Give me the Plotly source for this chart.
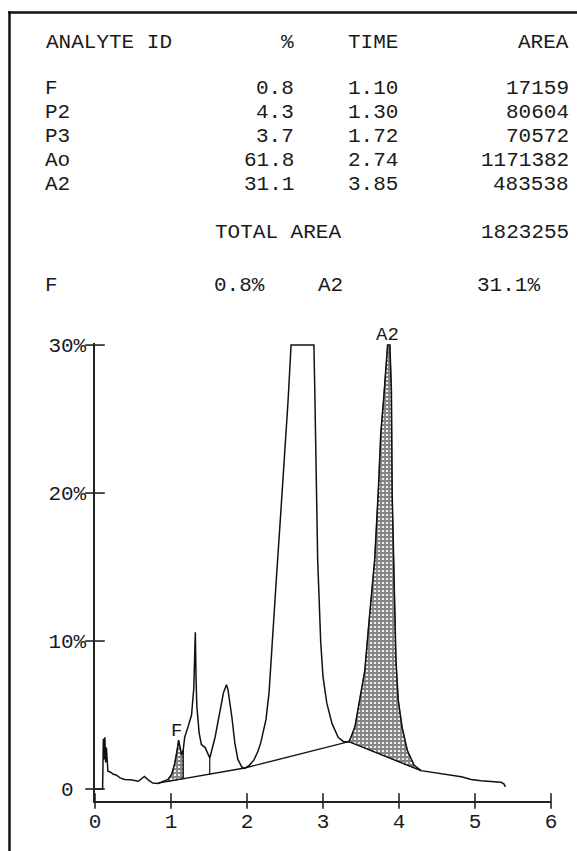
import numpy as np
import plotly.graph_objects as go

# ---------------- data ----------------
analytes = ["F", "P2", "P3", "Ao", "A2"]
percent = ["0.8", "4.3", "3.7", "61.8", "31.1"]
times = ["1.10", "1.30", "1.72", "2.74", "3.85"]
areas = ["17159", "80604", "70572", "1171382", "483538"]
total_area = "1823255"
summary = [("F", "0.8%"), ("A2", "31.1%")]

# chromatogram trace: time (min) vs signal (% full scale)
time_min = [0.00, 0.10, 0.11, 0.12, 0.13, 0.14, 0.15, 0.16, 0.17, 0.20, 0.24, 0.28,
            0.33, 0.39, 0.47, 0.57, 0.62, 0.65, 0.70, 0.76, 0.83, 0.90, 0.96, 1.01,
            1.05, 1.09, 1.10, 1.12, 1.14, 1.16, 1.18, 1.23, 1.27, 1.30, 1.32, 1.33,
            1.34, 1.37, 1.40, 1.45, 1.51, 1.58, 1.64, 1.69, 1.73, 1.75, 1.80, 1.84,
            1.88, 1.93, 1.97, 2.03, 2.09, 2.14, 2.18, 2.22, 2.25, 2.29, 2.33, 2.39,
            2.45, 2.51, 2.53, 2.54, 2.58, 2.88, 2.89, 2.91, 2.93, 2.97, 3.00, 3.05,
            3.12, 3.20, 3.27, 3.34, 3.36, 3.42, 3.48, 3.55, 3.60, 3.64, 3.68, 3.73,
            3.76, 3.80, 3.83, 3.85, 3.88, 3.90, 3.91, 3.93, 3.96, 3.99, 4.04, 4.11,
            4.20, 4.29, 4.50, 4.82, 4.95, 5.08, 5.34, 5.38, 5.40]
signal_pct = [0.0, 0.0, 3.4, 2.0, 3.5, 1.8, 2.8, 1.6, 1.2, 1.15, 1.0, 0.95,
              0.75, 0.65, 0.62, 0.52, 0.75, 0.85, 0.62, 0.40, 0.38, 0.50, 0.65, 1.0,
              1.75, 2.9, 3.3, 2.8, 2.3, 2.6, 3.5, 4.3, 5.0, 6.8, 10.6, 7.4,
              5.6, 3.8, 3.0, 2.8, 2.1, 3.5, 5.1, 6.5, 7.05, 6.7, 4.9, 3.1,
              2.0, 1.5, 1.4, 1.6, 1.95, 2.5, 3.1, 3.9, 4.7, 6.5, 9.9, 14.5,
              19.1, 23.7, 25.5, 26.2, 30.0, 30.0, 27.5, 20.0, 15.5, 9.9, 7.6, 5.8,
              4.4, 3.5, 3.2, 3.2, 3.4, 4.2, 6.0, 8.0, 11.0, 13.2, 15.5, 20.4,
              24.0, 26.5, 29.0, 30.0, 30.0, 27.0, 20.0, 15.5, 8.7, 6.0, 4.2, 2.6,
              1.6, 1.24, 1.08, 0.83, 0.65, 0.56, 0.45, 0.35, 0.15]

# integration baseline drawn by the integrator
baseline_t = [0.83, 1.97, 3.34, 4.29]
baseline_pct = [0.40, 1.42, 3.20, 1.24]
# peak separation drop lines
drop_t = [1.16, 1.51]
drop_top = [2.6, 2.1]
# shaded (reported) peaks
f_window = (0.96, 1.16)
a2_window = (3.34, 4.29)

x_ticks = [0, 1, 2, 3, 4, 5, 6]
x_ticktext = ["0", "1", "2", "3", "4", "5", "6"]
y_ticks = [0, 10, 20, 30]
y_ticktext = ["0\u00a0", "10%", "20%", "30%"]

# ---------------- layout geometry ----------------
W, H = 577, 851
L, R, T, B = 95, 551, 343, 801
Y_RANGE = [-0.81, 30.14]
FONT = "Liberation Mono"
FS = 21
INK = "#1a1a1a"


def px(x):
    return (x - L) / (R - L)


def py(y):
    return (B - y) / (B - T)


t_arr = np.array(time_min)
s_arr = np.array(signal_pct)


def shaded(t0, t1):
    m = (t_arr >= t0) & (t_arr <= t1)
    xs = list(t_arr[m])
    ys = list(s_arr[m])
    bx = [t1, t0]
    by = list(np.interp(bx, baseline_t, baseline_pct))
    return xs + bx + [xs[0]], ys + by + [ys[0]]


pattern = dict(shape="+", fgcolor="#1a1a1a", bgcolor="#eeeeee", size=4, solidity=0.7)

fig = go.Figure()
for win in (f_window, a2_window):
    xs, ys = shaded(*win)
    fig.add_trace(go.Scatter(x=xs, y=ys, mode="lines", fill="toself",
                             fillpattern=pattern, fillcolor="rgba(0,0,0,0)",
                             line=dict(width=0.8, color="#222"), hoverinfo="skip",
                             showlegend=False))

# trace
fig.add_trace(go.Scatter(x=time_min, y=signal_pct, mode="lines",
                         line=dict(color="#111", width=1.5), showlegend=False))
# baseline
fig.add_trace(go.Scatter(x=baseline_t, y=baseline_pct, mode="lines",
                         line=dict(color="#111", width=1.4), showlegend=False))
# drop lines
drop_base = np.interp(drop_t, baseline_t, baseline_pct)
dx, dy = [], []
for t, top, bot in zip(drop_t, drop_top, drop_base):
    dx += [t, t, None]
    dy += [top, bot, None]
fig.add_trace(go.Scatter(x=dx, y=dy, mode="lines",
                         line=dict(color="#111", width=1.2), showlegend=False))

# tick marks crossing the axes
fig.add_trace(go.Scatter(x=x_ticks, y=[Y_RANGE[0]] * len(x_ticks), mode="markers",
                         marker=dict(symbol="line-ns", size=11,
                                     line=dict(width=1.6, color="#222")),
                         cliponaxis=False, showlegend=False, hoverinfo="skip"))
fig.add_trace(go.Scatter(x=[0] * len(y_ticks), y=y_ticks, mode="markers",
                         marker=dict(symbol="line-ew", size=14,
                                     line=dict(width=1.6, color="#222")),
                         cliponaxis=False, showlegend=False, hoverinfo="skip"))

ann = []


def text(x, y, s, anchor="left"):
    ann.append(dict(x=px(x), y=py(y), xref="paper", yref="paper", text=s,
                    showarrow=False, xanchor=anchor, yanchor="middle",
                    font=dict(family=FONT, size=FS, color=INK)))


# header table
text(44, 42, "ANALYTE ID")
text(296, 42, "%", "right")
text(400, 42, "TIME", "right")
text(571, 42, "AREA", "right")
row_y = [88.5, 112.5, 136.5, 160.5, 184]
for yy, a, p, t, ar in zip(row_y, analytes, percent, times, areas):
    text(43, yy, a)
    text(296, yy, p, "right")
    text(400, yy, t, "right")
    text(571, yy, ar, "right")
text(213, 232, "TOTAL AREA")
text(571, 232, total_area, "right")
text(43, 285, summary[0][0])
text(212, 285, summary[0][1])
text(316, 285, summary[1][0])
text(475, 285, summary[1][1])

# peak labels
ann.append(dict(x=3.85, y=30.0, xref="x", yref="y", text="A2", showarrow=False,
                xanchor="center", yanchor="bottom", yshift=-3,
                font=dict(family=FONT, size=FS - 2, color=INK)))
ann.append(dict(x=1.07, y=3.9, xref="x", yref="y", text="F", showarrow=False,
                xanchor="center", yanchor="middle",
                font=dict(family=FONT, size=FS - 2, color=INK)))

shapes = [
    dict(type="line", xref="paper", yref="paper", x0=px(8), x1=px(590),
         y0=py(12.5), y1=py(12.5), line=dict(color="#111", width=2.5)),
    dict(type="line", xref="paper", yref="paper", x0=px(9.5), x1=px(9.5),
         y0=py(11.5), y1=py(870), line=dict(color="#111", width=2.5)),
]

fig.update_layout(
    width=W, height=H,
    margin=dict(l=L, r=W - R, t=T, b=H - B, pad=0),
    paper_bgcolor="white", plot_bgcolor="white",
    annotations=ann, shapes=shapes, showlegend=False,
    xaxis=dict(range=[0, 6], showline=True, linecolor="#222", linewidth=1.6,
               tickvals=x_ticks, ticktext=x_ticktext, ticks="", showgrid=False,
               zeroline=False, ticklabelstandoff=0, automargin=False,
               tickfont=dict(family=FONT, size=FS, color=INK)),
    yaxis=dict(range=Y_RANGE, showline=True, linecolor="#222", linewidth=1.6,
               tickvals=y_ticks, ticktext=y_ticktext, ticks="", showgrid=False,
               zeroline=False, ticklabelstandoff=3, automargin=False,
               tickfont=dict(family=FONT, size=FS, color=INK)),
)

fig.write_html("out.html",
               config={"displayModeBar": False, "staticPlot": True},
               post_script="document.body.style.margin='0px';"
                           "document.body.style.overflow='hidden';")
